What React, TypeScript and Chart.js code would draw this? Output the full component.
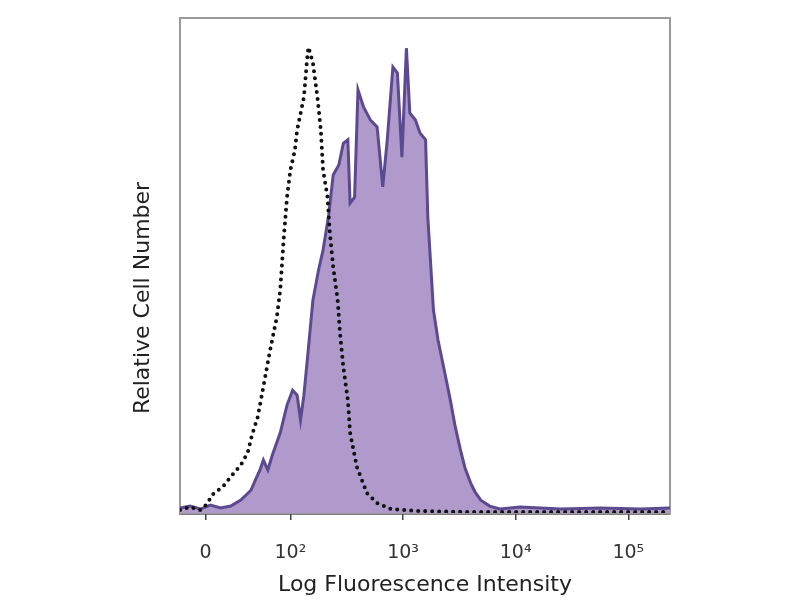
import React, { useEffect, useRef } from "react";
import { Chart, registerables } from "chart.js";

Chart.register(...registerables);

// x values are in log-decade units (2 = 10^2, 3 = 10^3 ...); y is relative count (0-100)
const stainedX = [1.02, 1.11, 1.2, 1.29, 1.38, 1.47, 1.56, 1.65, 1.69, 1.73, 1.76, 1.8, 1.84, 1.91, 1.97, 2.02, 2.06, 2.09, 2.12, 2.15, 2.2, 2.25, 2.29, 2.34, 2.38, 2.43, 2.47, 2.51, 2.53, 2.57, 2.6, 2.65, 2.71, 2.77, 2.82, 2.86, 2.91, 2.95, 2.99, 3.03, 3.06, 3.11, 3.15, 3.2, 3.22, 3.27, 3.31, 3.36, 3.42, 3.46, 3.51, 3.55, 3.6, 3.64, 3.69, 3.77, 3.86, 4.04, 4.4, 4.75, 5.11, 5.37];
const stainedY = [1.0, 1.4, 0.8, 1.6, 1.0, 1.4, 2.6, 4.6, 6.7, 8.7, 10.7, 8.7, 11.7, 16.2, 21.8, 24.8, 23.8, 18.8, 23.8, 30.9, 43.0, 49.1, 53.1, 60.2, 68.3, 70.3, 74.7, 75.4, 62.6, 63.8, 85.5, 82.0, 79.4, 78.0, 65.9, 75.4, 90.1, 88.9, 71.9, 93.9, 80.8, 79.4, 76.8, 75.4, 59.8, 41.0, 35.0, 29.5, 22.8, 17.8, 12.7, 9.1, 6.1, 4.2, 2.6, 1.4, 0.8, 1.2, 0.8, 1.0, 0.8, 1.0];

const controlX = [1.02, 1.11, 1.2, 1.25, 1.32, 1.4, 1.47, 1.56, 1.62, 1.66, 1.71, 1.76, 1.82, 1.88, 1.91, 1.94, 1.97, 2.0, 2.04, 2.06, 2.12, 2.15, 2.16, 2.2, 2.24, 2.27, 2.29, 2.33, 2.35, 2.38, 2.42, 2.44, 2.47, 2.51, 2.53, 2.59, 2.68, 2.77, 2.89, 3.15, 3.6, 4.2, 4.8, 5.37];
const controlY = [0.6, 1.2, 0.6, 1.6, 4.0, 5.3, 7.3, 9.7, 12.1, 15.8, 19.4, 25.5, 32.9, 39.6, 45.1, 55.2, 63.8, 69.3, 73.3, 77.4, 84.0, 92.1, 94.1, 90.9, 84.0, 77.4, 69.3, 63.8, 56.6, 49.7, 43.0, 36.4, 29.5, 22.8, 16.2, 9.3, 4.0, 2.0, 0.8, 0.4, 0.2, 0.2, 0.2, 0.2];

const tickValues = [1.246, 2, 3, 4, 5];
const tickLabels = ["0", "10\u00B2", "10\u00B3", "10\u2074", "10\u2075"];

const xTitle = "Log Fluorescence Intensity";
const yTitle = "Relative Cell Number";

const framePlugin = {
  id: "frame",
  beforeDatasetsDraw(chart: any) {
    const { ctx, chartArea } = chart;
    ctx.save();
    ctx.strokeStyle = "#9a9a9a";
    ctx.lineWidth = 2;
    ctx.strokeRect(chartArea.left, chartArea.top, chartArea.right - chartArea.left, chartArea.bottom - chartArea.top);
    ctx.restore();
  },
  afterDraw(chart: any) {
    const { ctx } = chart;
    ctx.save();
    ctx.translate(143, 298);
    ctx.rotate(-Math.PI / 2);
    ctx.font = "22px 'DejaVu Sans'";
    ctx.fillStyle = "#222";
    ctx.textAlign = "center";
    ctx.textBaseline = "middle";
    ctx.fillText(yTitle, 0, 0);
    ctx.restore();
  },
};

export default function App() {
  const ref = useRef<HTMLCanvasElement>(null);
  useEffect(() => {
    const canvas = ref.current;
    if (!canvas) return;
    const chart = new Chart(canvas, {
      type: "line",
      data: {
        datasets: [
          {
            label: "Isotype control",
            data: controlX.map((x, i) => ({ x, y: controlY[i] })),
            borderColor: "#111",
            borderWidth: 4,
            borderDash: [0, 7],
            borderCapStyle: "round",
            pointRadius: 0,
            tension: 0,
            fill: false,
            order: 0,
          },
          {
            label: "Stained",
            data: stainedX.map((x, i) => ({ x, y: stainedY[i] })),
            borderColor: "#5c4a90",
            backgroundColor: "#b09acb",
            borderWidth: 3,
            pointRadius: 0,
            tension: 0,
            fill: "origin",
            order: 1,
          },
        ],
      },
      options: {
        responsive: false,
        animation: false,
        layout: { padding: { left: 180, right: 130, top: 18, bottom: 0 } },
        plugins: { legend: { display: false }, tooltip: { enabled: false } },
        scales: {
          x: {
            type: "linear",
            min: 1.02,
            max: 5.37,
            afterBuildTicks: (scale: any) => {
              scale.ticks = tickValues.map((v) => ({ value: v }));
            },
            afterFit: (scale: any) => {
              scale.height = 87;
            },
            ticks: {
              callback: (v: any) => {
                const i = tickValues.indexOf(Number(v));
                return i >= 0 ? tickLabels[i] : "";
              },
              color: "#333",
              font: { family: "DejaVu Sans", size: 19 },
              padding: 22,
              maxRotation: 0,
              autoSkip: false,
            },
            grid: { display: true, drawOnChartArea: false, drawTicks: true, tickLength: 7, color: "#444", lineWidth: 1.5 },
            border: { display: true, color: "#000", width: 2.5 },
            title: {
              display: true,
              text: xTitle,
              color: "#222",
              font: { family: "DejaVu Sans", size: 22 },
              padding: { top: 2, bottom: 2 },
            },
          },
          y: {
            display: false,
            min: 0,
            max: 100,
          },
        },
      },
      plugins: [framePlugin],
    } as any);
    return () => chart.destroy();
  }, []);
  return (
    <div style={{ position: "absolute", left: 0, top: 0, width: 800, height: 600, background: "#fff" }}>
      <canvas ref={ref} width={800} height={600} style={{ display: "block" }} />
    </div>
  );
}
